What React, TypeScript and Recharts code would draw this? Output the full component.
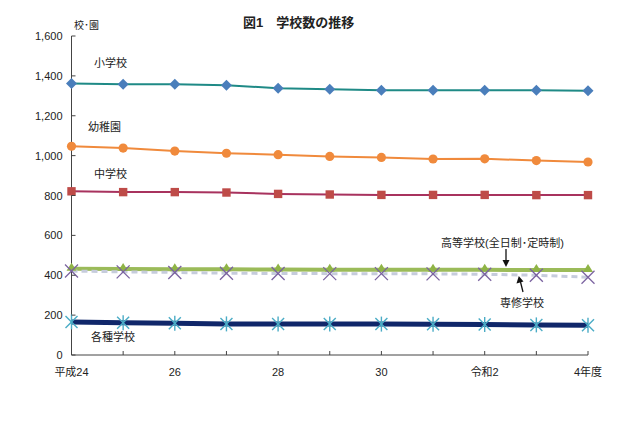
import { LineChart, Line, XAxis, YAxis } from 'recharts';

const years = ['平成24', '25', '26', '27', '28', '29', '30', '令和元', '令和2', '3', '4年度'];
const xTickLabels = ['平成24', '', '26', '', '28', '', '30', '', '令和2', '', '4年度'];
const yTicks = [0, 200, 400, 600, 800, 1000, 1200, 1400, 1600];

const elementary = [1362, 1358, 1358, 1353, 1338, 1333, 1328, 1328, 1328, 1328, 1325];
const kindergarten = [1047, 1038, 1023, 1012, 1005, 996, 991, 983, 984, 975, 968];
const juniorHigh = [821, 817, 817, 815, 808, 805, 803, 803, 803, 802, 802];
const highSchool = [432, 431, 430, 430, 429, 428, 428, 427, 427, 426, 426];
const specialTraining = [421, 417, 414, 410, 409, 408, 408, 407, 405, 400, 390];
const miscSchools = [166, 162, 159, 156, 155, 155, 155, 154, 153, 151, 149];

const data = years.map((year, i) => ({
  year,
  elementary: elementary[i],
  kindergarten: kindergarten[i],
  juniorHigh: juniorHigh[i],
  highSchool: highSchool[i],
  specialTraining: specialTraining[i],
  miscSchools: miscSchools[i],
}));

const FONT = "'Liberation Sans', 'Noto Sans CJK JP', sans-serif";
const AXIS = '#444';

const Diamond = ({ cx, cy }: any) => (
  <polygon
    points={`${cx},${cy - 5.5} ${cx + 5.5},${cy} ${cx},${cy + 5.5} ${cx - 5.5},${cy}`}
    fill="#4a7ebb"
  />
);
const Circle = ({ cx, cy }: any) => <circle cx={cx} cy={cy} r={4.6} fill="#f08a3c" />;
const Square = ({ cx, cy }: any) => (
  <rect x={cx - 4.2} y={cy - 4.2} width={8.4} height={8.4} fill="#be4b48" />
);
const Triangle = ({ cx, cy }: any) => (
  <polygon points={`${cx},${cy - 6} ${cx + 5},${cy + 2} ${cx - 5},${cy + 2}`} fill="#8fb446" />
);
const Cross = ({ cx, cy }: any) => (
  <g stroke="#7a62a0" strokeWidth={1.3}>
    <line x1={cx - 6.5} y1={cy - 6.5} x2={cx + 6.5} y2={cy + 6.5} />
    <line x1={cx - 6.5} y1={cy + 6.5} x2={cx + 6.5} y2={cy - 6.5} />
  </g>
);
const Star = ({ cx, cy }: any) => (
  <g stroke="#4bacc6" strokeWidth={1.4}>
    <line x1={cx - 6} y1={cy - 6} x2={cx + 6} y2={cy + 6} />
    <line x1={cx - 6} y1={cy + 6} x2={cx + 6} y2={cy - 6} />
    <line x1={cx} y1={cy - 7.5} x2={cx} y2={cy + 7.5} />
  </g>
);

const dotOf = (Shape: any, name: string) => (props: any) =>
  <Shape key={`${name}-${props.index}`} cx={props.cx} cy={props.cy} />;

const XTick = ({ x, y, payload, index }: any) => (
  <g>
    <line x1={x} y1={y} x2={x} y2={y - 4} stroke={AXIS} />
    <text x={x} y={y + 21} textAnchor="middle" fontSize={11} fontFamily={FONT} fill="#222">
      {xTickLabels[index ?? payload.index]}
    </text>
  </g>
);

const YTick = ({ x, y, payload }: any) => (
  <g>
    <line x1={x} y1={y} x2={x + 4} y2={y} stroke={AXIS} />
    <text x={x - 9} y={y + 4} textAnchor="end" fontSize={11} fontFamily={FONT} fill="#222">
      {payload.value.toLocaleString('en-US')}
    </text>
  </g>
);

export default function App() {
  return (
    <div style={{ position: 'absolute', left: 0, top: 0, width: 640, height: 426, background: '#fff' }}>
      <LineChart
        width={640}
        height={426}
        data={data}
        margin={{ top: 36, right: 52, bottom: 46, left: 0 }}
      >
        <XAxis
          dataKey="year"
          interval={0}
          tickSize={0}
          tickMargin={0}
          height={25}
          axisLine={{ stroke: AXIS }}
          tickLine={false}
          tick={<XTick />}
        />
        <YAxis
          domain={[0, 1600]}
          ticks={yTicks}
          width={71.5}
          tickSize={0}
          tickMargin={0}
          axisLine={{ stroke: AXIS }}
          tickLine={false}
          tick={<YTick />}
        />
        <Line
          dataKey="elementary"
          stroke="#1f8a86"
          strokeWidth={2}
          dot={dotOf(Diamond, 'el')}
          isAnimationActive={false}
        />
        <Line
          dataKey="kindergarten"
          stroke="#f08a3c"
          strokeWidth={2}
          dot={dotOf(Circle, 'kg')}
          isAnimationActive={false}
        />
        <Line
          dataKey="juniorHigh"
          stroke="#a8325e"
          strokeWidth={2}
          dot={dotOf(Square, 'jh')}
          isAnimationActive={false}
        />
        <Line
          dataKey="miscSchools"
          stroke="#10276a"
          strokeWidth={5}
          dot={dotOf(Star, 'ms')}
          isAnimationActive={false}
        />
        <Line
          dataKey="highSchool"
          stroke="#9bbb59"
          strokeWidth={4}
          dot={dotOf(Triangle, 'hs')}
          isAnimationActive={false}
        />
        <Line
          dataKey="specialTraining"
          stroke="#c6ccdc"
          strokeWidth={3}
          strokeDasharray="6 4"
          dot={dotOf(Cross, 'st')}
          isAnimationActive={false}
        />
      </LineChart>
      <svg
        width={640}
        height={426}
        style={{ position: 'absolute', left: 0, top: 0, pointerEvents: 'none' }}
        fontFamily={FONT}
        fill="#222"
      >
        <text x={243} y={27} fontSize={13} fontWeight="bold">図1　学校数の推移</text>
        <text x={74} y={29} fontSize={10}>校･園</text>
        <text x={94} y={67} fontSize={11}>小学校</text>
        <text x={88} y={131} fontSize={11}>幼稚園</text>
        <text x={94} y={178} fontSize={11}>中学校</text>
        <text x={91} y={341} fontSize={11}>各種学校</text>
        <text x={441} y={247} fontSize={11}>高等学校(全日制･定時制)</text>
        <text x={500} y={307} fontSize={11}>専修学校</text>
        <line x1={506} y1={249} x2={506} y2={261} stroke="#111" strokeWidth={1.3} />
        <polygon points="502.5,260 509.5,260 506,267" fill="#111" />
        <line x1={523} y1={292} x2={520.5} y2={282} stroke="#111" strokeWidth={1.3} />
        <polygon points="516.5,283.5 523.5,281.5 518.8,276" fill="#111" />
      </svg>
    </div>
  );
}
